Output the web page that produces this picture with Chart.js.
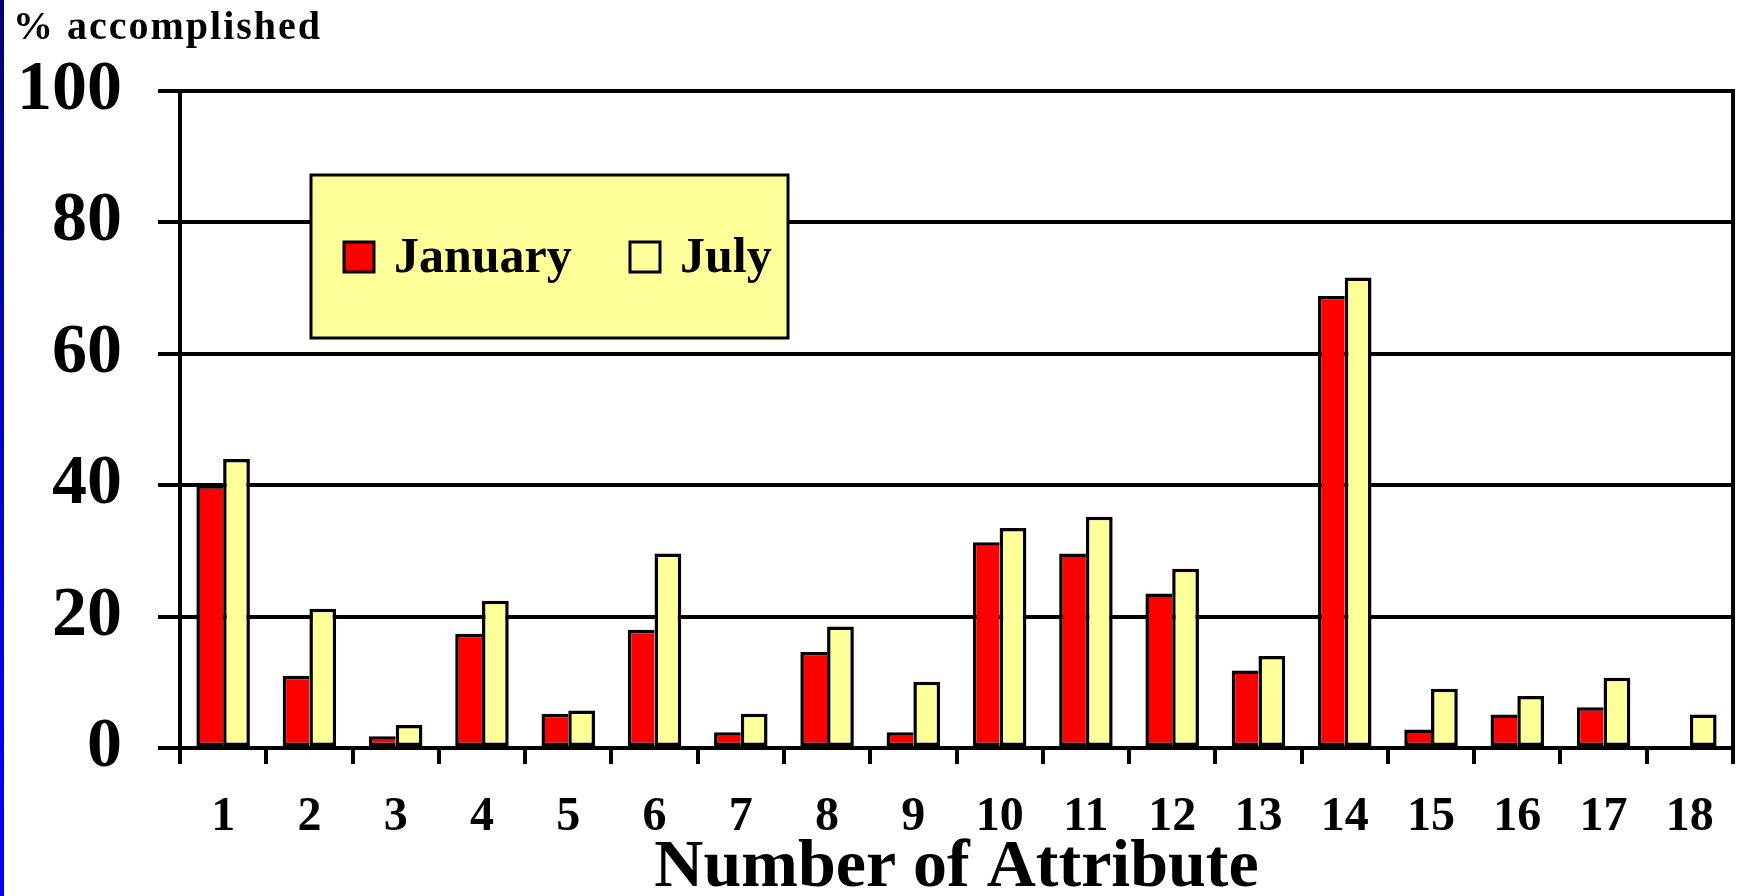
<!DOCTYPE html>
<html>
<head>
<meta charset="utf-8">
<script src="https://cdn.jsdelivr.net/npm/chart.js@4"></script>
<style>
  html, body { margin: 0; padding: 0; background: #fff; }
  #wrap { position: relative; width: 1740px; height: 896px; overflow: hidden; }
  #stripe { position: absolute; left: 0; top: 0; width: 4px; height: 896px;
            background: linear-gradient(#000070, #0000d0 50%, #0000ff); }
  canvas { position: absolute; left: 0; top: 0; }
</style>
</head>
<body>
<div id="wrap">
  <canvas id="chart" width="1740" height="896"></canvas>
  <div id="stripe"></div>
</div>
<script>
const FONT = "'Liberation Serif', 'Times New Roman', serif";
const RED = '#ff0000', YELLOW = '#ffff99', INK = '#000';

const attributes = ['1','2','3','4','5','6','7','8','9','10','11','12','13','14','15','16','17','18'];
const january = [40, 11, 1.8, 17.4, 5.2, 18, 2.4, 14.6, 2.4, 31.3, 29.6, 23.5, 11.8, 68.8, 2.8, 5.1, 6.2, 0];
const july    = [44, 21.2, 3.5, 22.4, 5.7, 29.6, 5.2, 18.5, 10.1, 33.5, 35.2, 27.3, 14, 71.6, 9, 7.9, 10.7, 5.1];
const yTicks = [0, 20, 40, 60, 80, 100];

// legend box drawn over the grid, inside the plot
const legendBox = {
  id: 'legendBox',
  afterInit(chart) {
    // a little letter spacing for the top-left caption only
    const tb = chart.titleBlock;
    if (tb) {
      const orig = tb.draw.bind(tb);
      tb.draw = () => {
        chart.ctx.save();
        chart.ctx.letterSpacing = '2px';
        orig();
        chart.ctx.restore();
      };
    }
  },
  afterDatasetsDraw(chart) {
    const { ctx, chartArea: ca } = chart;
    const x = ca.left + 131, y = ca.top + 84, w = 477, h = 163;
    ctx.save();
    ctx.fillStyle = YELLOW;
    ctx.strokeStyle = INK;
    ctx.lineWidth = 3;
    ctx.fillRect(x, y, w, h);
    ctx.strokeRect(x, y, w, h);
    ctx.font = 'bold 50px ' + FONT;
    ctx.textBaseline = 'middle';
    const offs = [33, 319];
    chart.data.datasets.forEach((ds, i) => {
      const ix = x + offs[i];
      ctx.fillStyle = ds.backgroundColor;
      ctx.fillRect(ix, y + 67, 30, 30);
      ctx.strokeRect(ix, y + 67, 30, 30);
      ctx.fillStyle = INK;
      ctx.fillText(ds.label, ix + 50, y + 84);
    });
    ctx.restore();
  }
};

new Chart(document.getElementById('chart'), {
  type: 'bar',
  data: {
    labels: attributes,
    datasets: [
      { label: 'January', data: january, backgroundColor: RED, borderColor: INK, borderWidth: 3.5, borderSkipped: 'right' },
      { label: 'July', data: july, backgroundColor: YELLOW, borderColor: INK, borderWidth: 3.5, borderSkipped: false }
    ]
  },
  options: {
    responsive: false,
    animation: false,
    barPercentage: 1,
    categoryPercentage: 0.62,
    layout: { padding: { left: 13, top: 9, right: 7, bottom: 0 } },
    plugins: {
      legend: { display: false },
      tooltip: { enabled: false },
      title: {
        display: true,
        text: '% accomplished',
        align: 'start',
        color: INK,
        font: { family: FONT, size: 40, weight: 'bold', lineHeight: 1 },
        padding: { top: 0, bottom: 42 }
      }
    },
    scales: {
      x: {
        grid: { drawOnChartArea: false, color: INK, tickColor: INK, lineWidth: 4, tickLength: 16 },
        border: { color: INK, width: 4 },
        ticks: { color: INK, autoSkip: false, maxRotation: 0, padding: 25,
                 font: { family: FONT, size: 48, weight: 'bold' } },
        title: { display: true, text: 'Number of Attribute', color: INK, padding: 0,
                 font: { family: FONT, size: 68, weight: 'bold', lineHeight: 0.8 } },
        afterFit: s => { s.height = 148; }
      },
      y: {
        min: 0, max: 100,
        afterBuildTicks: s => { s.ticks = yTicks.map(v => ({ value: v })); },
        grid: { color: INK, tickColor: INK, lineWidth: 4, tickLength: 22 },
        border: { color: INK, width: 4 },
        ticks: { color: INK, padding: 36, font: { family: FONT, size: 70, weight: 'bold' } },
        afterFit: s => { s.width = 167; }
      },
      yR: {
        position: 'right',
        min: 0, max: 100,
        grid: { display: false, drawTicks: false },
        ticks: { display: false },
        border: { color: INK, width: 4 },
        afterFit: s => { s.width = 0; }
      }
    }
  },
  plugins: [legendBox]
});
</script>
</body>
</html>
